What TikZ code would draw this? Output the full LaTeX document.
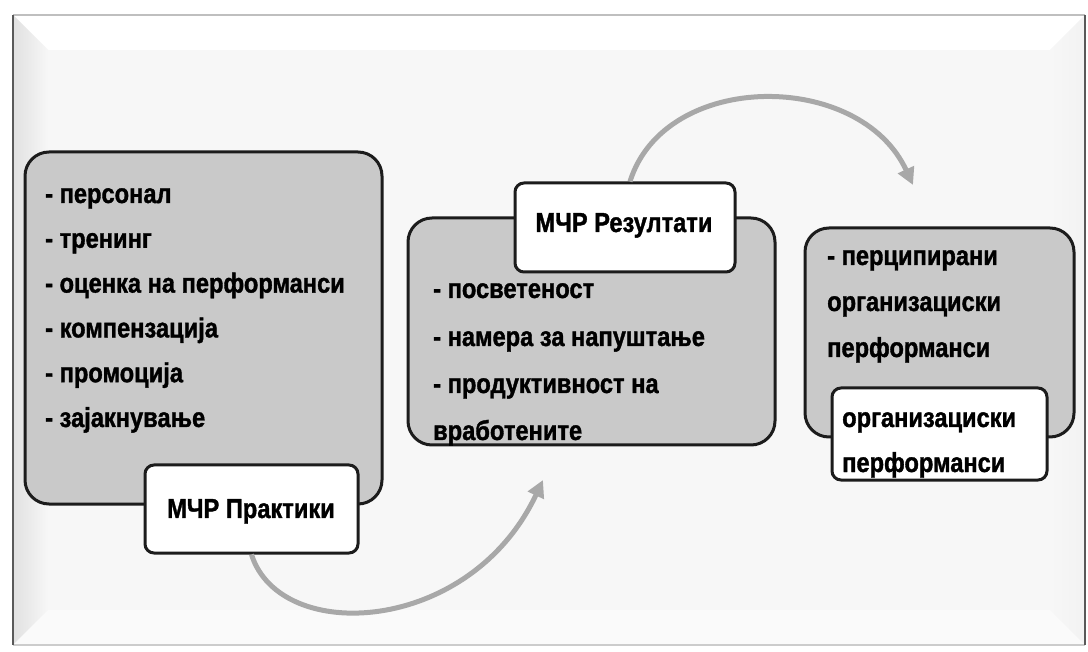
\documentclass[tikz,border=0pt]{standalone}
\usepackage{fontspec}
\setmainfont[FakeStretch=0.86,BoldFeatures={FakeBold=1.3}]{Liberation Sans}
\usetikzlibrary{arrows.meta}
\definecolor{boxgray}{HTML}{C9C9C9}
\definecolor{arrowgray}{HTML}{A8A8A8}
\definecolor{bggray}{HTML}{F7F7F7}
\definecolor{linedark}{HTML}{1C1C1C}
\begin{document}
\begin{tikzpicture}[x=1pt,y=-1pt,
  graybox/.style={draw=linedark, line width=3pt, fill=boxgray, rounded corners=24pt, inner sep=0pt},
  whitebox/.style={draw=linedark, line width=3pt, fill=white, rounded corners=9pt, inner sep=0pt},
  txt/.style={anchor=base west, inner sep=0pt, font=\bfseries\fontsize{27.5}{32}\selectfont, text=black},
  ctxt/.style={anchor=base, inner sep=0pt, font=\bfseries\fontsize{27.5}{32}\selectfont, text=black},
  flow/.style={draw=arrowgray, line width=5pt, -{Triangle[length=17pt,width=17pt]}}]
\useasboundingbox (0,0) rectangle (1088,652);
% frame with bevel
\fill[bggray] (13,15) rectangle (1085,645);
\fill[white] (13,15) -- (1085,15) -- (1050,50) -- (48,50) -- cycle;
\shade[left color=black!12, right color=bggray] (13,15) -- (48,50) -- (48,610) -- (13,645) -- cycle;
\fill[white!40!bggray] (13,645) -- (48,610) -- (1050,610) -- (1085,645) -- cycle;
\shade[left color=bggray, right color=black!5] (1085,15) -- (1050,50) -- (1050,610) -- (1085,645) -- cycle;
\draw[black!25, line width=2pt] (13,15) -- (1085,15);
\draw[black!20, line width=2pt] (13,645) -- (1085,645);
\draw[black!65, line width=2.5pt] (13,15) -- (13,645);
\draw[black!65, line width=2.5pt] (1085,15) -- (1085,645);
% left group
\node[graybox, minimum width=357pt, minimum height=352pt] (b1) at (203.5,328) {};
\node[whitebox, minimum width=213pt, minimum height=88pt] (pr) at (251.5,509) {};
\node[ctxt] (prt) at (251,518) {МЧР Практики};
\foreach \t [count=\i from 0] in {- персонал, - тренинг, - оценка на перформанси, - компензација, - промоција, - зајакнување}
  \node[txt] (l\i) at (45,{203+44.8*\i}) {\t};
% middle group
\node[graybox, minimum width=367pt, minimum height=227pt] (b2) at (591.5,331.5) {};
\node[whitebox, minimum width=220pt, minimum height=89pt] (rz) at (625,227.5) {};
\node[ctxt] (rzt) at (624,232) {МЧР Резултати};
\node[txt] (m0) at (433,298) {- посветеност};
\node[txt] (m1) at (433,346) {- намера за напуштање};
\node[txt] (m2) at (433,393) {- продуктивност на};
\node[txt] (m3) at (433,440) {вработените};
% right group
\node[graybox, minimum width=269pt, minimum height=209pt] (b3) at (939.5,332.5) {};
\node[txt] (r0) at (827,265) {- перципирани};
\node[txt] (r1) at (827,311) {организациски};
\node[txt] (r2) at (827,357) {перформанси};
\node[whitebox, minimum width=215pt, minimum height=92pt] (og) at (939.5,434) {};
\node[txt] (o0) at (842,427) {организациски};
\node[txt] (o1) at (842,472) {перформанси};
% arrows
\coordinate (t1) at (543,480);
\coordinate (s2) at ([xshift=5pt]rz.north);
\coordinate (t2) at (913,185);
\draw[flow] (pr.south) .. controls (280,645) and (470,635) .. (t1);
\draw[flow] (s2) .. controls (665,70) and (860,70) .. (t2);
\end{tikzpicture}
\end{document}
